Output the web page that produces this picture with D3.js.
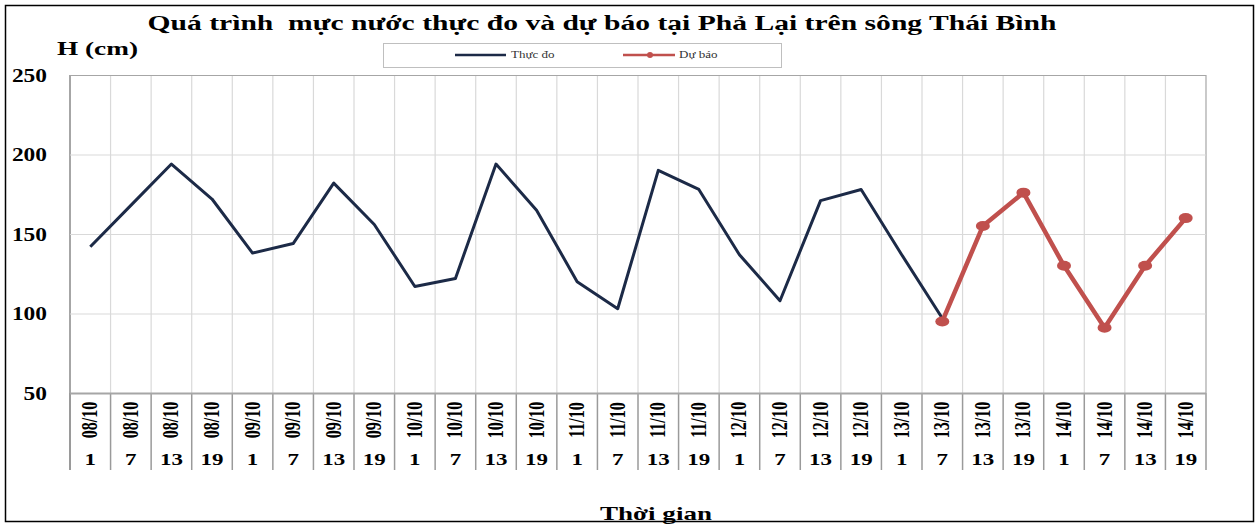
<!DOCTYPE html>
<html>
<head>
<meta charset="utf-8">
<script src="https://cdn.jsdelivr.net/npm/d3@7"></script>
<style>
  body { margin: 0; background: #fff; }
  text { font-family: "Liberation Serif", "Times New Roman", serif; font-weight: bold; fill: #000; }
</style>
</head>
<body>
<div class="chart"></div>
<script>
// data
const dates = ['08/10', '09/10', '10/10', '11/10', '12/10', '13/10', '14/10']
const hours = [1, 7, 13, 19]
const yTicks = [50, 100, 150, 200, 250]

const measured = [142, 168, 194, 172, 138, 144, 182, 156, 117, 122, 194, 165, 120, 103,
  190, 178, 137, 108, 171, 178, 137, 97, null, null, null, null, null, null]
const forecast = [null, null, null, null, null, null, null, null, null, null, null, null, null, null,
  null, null, null, null, null, null, null, 95, 155, 176, 130, 91, 130, 160]

const cats = []
dates.forEach(d => hours.forEach(h => cats.push({ date: d, hour: h })))

const W = 1259, H = 527
const margin = { top: 75, right: 53, bottom: 134, left: 70 }
const plotW = W - margin.left - margin.right
const plotH = H - margin.top - margin.bottom
const labelBottom = 470

const svg = d3.select('.chart').append('svg')
  .attr('width', W)
  .attr('height', H)

// stretch text horizontally like the source image
function stretch (sel, k) {
  sel.each(function () {
    const w = this.getComputedTextLength()
    this.setAttribute('textLength', w * k)
    this.setAttribute('lengthAdjust', 'spacingAndGlyphs')
  })
}

svg.append('rect')
  .attr('x', 5.5).attr('y', 5.5)
  .attr('width', W - 11).attr('height', H - 11)
  .attr('fill', 'none').attr('stroke', '#000').attr('stroke-width', 1.5)

const x = d3.scaleBand()
  .domain(d3.range(cats.length))
  .range([margin.left, margin.left + plotW])
  .padding(0)

const y = d3.scaleLinear()
  .domain([50, 250])
  .range([margin.top + plotH, margin.top])

const g = svg.append('g')

// vertical grid + label separators
const bounds = d3.range(cats.length + 1).map(i => i < cats.length ? x(i) : x.range()[1])
g.selectAll('.vgrid')
  .data(bounds)
  .enter().append('line')
    .attr('x1', d => d).attr('x2', d => d)
    .attr('y1', y(250)).attr('y2', y(50))
    .style('stroke', (d, i) => (i === 0 || i === cats.length) ? '#a6a6a6' : '#d9d9d9')
    .style('stroke-width', (d, i) => i === 0 ? 2 : 1.2)
g.selectAll('.sep')
  .data(bounds)
  .enter().append('line')
    .attr('x1', d => d).attr('x2', d => d)
    .attr('y1', y(50)).attr('y2', labelBottom)
    .style('stroke', '#9a9a9a')
    .style('stroke-width', (d, i) => i === 0 ? 2 : 1.5)

// y axis with horizontal grid
const yAxis = svg.append('g')
  .attr('transform', `translate(${margin.left},0)`)
  .call(d3.axisLeft(y).tickValues(yTicks).tickSize(-plotW).tickPadding(23))
yAxis.select('.domain').remove()
yAxis.selectAll('.tick line')
  .style('stroke', d => (d === 50 || d === 250) ? '#a6a6a6' : '#d9d9d9')
  .style('stroke-width', d => d === 50 ? 2 : 1.2)
yAxis.selectAll('.tick text')
  .style('font-family', '"Liberation Serif", serif')
  .style('font-weight', 'bold')
  .style('font-size', '18px')
  .attr('dy', '0.36em')
stretch(yAxis.selectAll('.tick text'), 1.3)

// x labels: date rotated, hour below
const xl = svg.append('g')
xl.selectAll('.date')
  .data(cats)
  .enter().append('text')
    .attr('class', 'date')
    .attr('transform', (d, i) => `translate(${x(i) + x.bandwidth() / 2 + 7},420) scale(1.4,1) rotate(-90)`)
    .attr('text-anchor', 'middle')
    .style('font-size', '16px')
    .text(d => d.date)
xl.selectAll('.hour')
  .data(cats)
  .enter().append('text')
    .attr('class', 'hour')
    .attr('x', (d, i) => x(i) + x.bandwidth() / 2)
    .attr('y', 465)
    .attr('text-anchor', 'middle')
    .style('font-size', '17px')
    .text(d => d.hour)
stretch(xl.selectAll('.hour'), 1.35)

// lines
const line = d3.line()
  .defined(d => d != null)
  .x((d, i) => x(i) + x.bandwidth() / 2)
  .y(d => y(d))

svg.append('path')
  .datum(measured)
  .attr('d', line)
  .attr('fill', 'none')
  .attr('stroke', '#1c2a47')
  .attr('stroke-width', 3)
  .attr('stroke-linejoin', 'round')

svg.append('path')
  .datum(forecast)
  .attr('d', line)
  .attr('fill', 'none')
  .attr('stroke', '#c0504d')
  .attr('stroke-width', 4.5)
  .attr('stroke-linejoin', 'round')

svg.selectAll('.fpt')
  .data(forecast.map((v, i) => ({ v, i })).filter(d => d.v != null))
  .enter().append('ellipse')
    .attr('cx', d => x(d.i) + x.bandwidth() / 2)
    .attr('cy', d => y(d.v))
    .attr('rx', 7).attr('ry', 5)
    .attr('fill', '#c0504d')

// titles
svg.append('text')
  .attr('x', 602).attr('y', 30)
  .attr('text-anchor', 'middle')
  .style('font-size', '22px')
  .style('white-space', 'pre')
  .attr('textLength', 909).attr('lengthAdjust', 'spacingAndGlyphs')
  .text('Quá trình  mực nước thực đo và dự báo tại Phả Lại trên sông Thái Bình')

svg.append('text')
  .attr('x', 57).attr('y', 55)
  .style('font-size', '18px')
  .attr('textLength', 81).attr('lengthAdjust', 'spacingAndGlyphs')
  .text('H (cm)')

svg.append('text')
  .attr('x', 656).attr('y', 520)
  .attr('text-anchor', 'middle')
  .style('font-size', '19px')
  .attr('textLength', 112).attr('lengthAdjust', 'spacingAndGlyphs')
  .text('Thời gian')

// legend
const lg = svg.append('g')
lg.append('rect')
  .attr('x', 383.5).attr('y', 43.5)
  .attr('width', 398).attr('height', 24)
  .attr('fill', '#fff').attr('stroke', '#bfbfbf')
lg.append('line')
  .attr('x1', 455).attr('x2', 506).attr('y1', 55).attr('y2', 55)
  .attr('stroke', '#1c2a47').attr('stroke-width', 2.5)
lg.append('text')
  .attr('x', 511).attr('y', 58)
  .style('font-size', '10px').style('font-weight', 'normal').style('fill', '#333')
  .text('Thực đo')
lg.append('line')
  .attr('x1', 623).attr('x2', 675).attr('y1', 55).attr('y2', 55)
  .attr('stroke', '#c0504d').attr('stroke-width', 2.5)
lg.append('circle')
  .attr('cx', 650).attr('cy', 55).attr('r', 3)
  .attr('fill', '#c0504d')
lg.append('text')
  .attr('x', 679).attr('y', 58)
  .style('font-size', '10px').style('font-weight', 'normal').style('fill', '#333')
  .text('Dự báo')
stretch(lg.selectAll('text'), 1.3)
</script>
</body>
</html>
